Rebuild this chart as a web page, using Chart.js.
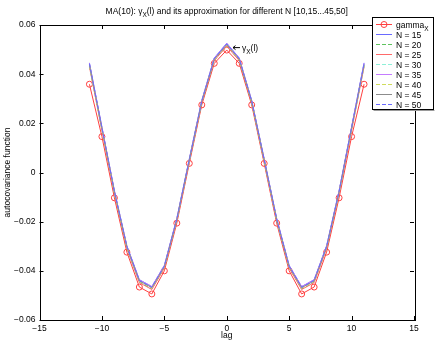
<!DOCTYPE html>
<html>
<head>
<meta charset="utf-8">
<script src="https://cdn.jsdelivr.net/npm/chart.js@4/dist/chart.umd.min.js"></script>
<style>
  html, body { margin: 0; padding: 0; background: #fff; }
  #wrap { width: 436px; height: 344px; }
</style>
</head>
<body>
<div id="wrap"><canvas id="acfChart" width="436" height="344"></canvas></div>
<script>
const lags = [-11, -10, -9, -8, -7, -6, -5, -4, -3, -2, -1, 0, 1, 2, 3, 4, 5, 6, 7, 8, 9, 10, 11];

const gammaX = [0.0359, 0.0146, -0.0103, -0.0324, -0.0466, -0.0494, -0.0400, -0.0206, 0.0037, 0.0275, 0.0444, 0.0498, 0.0444, 0.0275, 0.0037, -0.0206, -0.0400, -0.0494, -0.0466, -0.0324, -0.0103, 0.0146, 0.0359];

const approxN15 = [0.0446, 0.0185, -0.0074, -0.0298, -0.0436, -0.0464, -0.0378, -0.0187, 0.0055, 0.0293, 0.0466, 0.0526, 0.0466, 0.0293, 0.0055, -0.0187, -0.0378, -0.0464, -0.0436, -0.0298, -0.0074, 0.0185, 0.0446];
const approxN20 = [0.0433, 0.0174, -0.0084, -0.0308, -0.0446, -0.0474, -0.0388, -0.0196, 0.0046, 0.0283, 0.0456, 0.0516, 0.0456, 0.0283, 0.0046, -0.0196, -0.0388, -0.0474, -0.0446, -0.0308, -0.0084, 0.0174, 0.0433];
const approxN25 = [0.0430, 0.0172, -0.0086, -0.0309, -0.0448, -0.0476, -0.0389, -0.0197, 0.0045, 0.0283, 0.0455, 0.0514, 0.0455, 0.0283, 0.0045, -0.0197, -0.0389, -0.0476, -0.0448, -0.0309, -0.0086, 0.0172, 0.0430];
const approxN30 = [0.0437, 0.0178, -0.0080, -0.0304, -0.0443, -0.0470, -0.0384, -0.0192, 0.0050, 0.0289, 0.0460, 0.0520, 0.0460, 0.0289, 0.0050, -0.0192, -0.0384, -0.0470, -0.0443, -0.0304, -0.0080, 0.0178, 0.0437];
const approxN35 = [0.0444, 0.0184, -0.0074, -0.0299, -0.0437, -0.0464, -0.0379, -0.0187, 0.0055, 0.0293, 0.0465, 0.0525, 0.0465, 0.0293, 0.0055, -0.0187, -0.0379, -0.0464, -0.0437, -0.0299, -0.0074, 0.0184, 0.0444];
const approxN40 = [0.0436, 0.0178, -0.0080, -0.0304, -0.0442, -0.0470, -0.0384, -0.0192, 0.0050, 0.0288, 0.0460, 0.0519, 0.0460, 0.0288, 0.0050, -0.0192, -0.0384, -0.0470, -0.0442, -0.0304, -0.0080, 0.0178, 0.0436];
const approxN45 = [0.0439, 0.0180, -0.0078, -0.0303, -0.0441, -0.0468, -0.0383, -0.0191, 0.0051, 0.0289, 0.0461, 0.0521, 0.0461, 0.0289, 0.0051, -0.0191, -0.0383, -0.0468, -0.0441, -0.0303, -0.0078, 0.0180, 0.0439];
const approxN50 = [0.0442, 0.0182, -0.0077, -0.0301, -0.0439, -0.0467, -0.0381, -0.0190, 0.0052, 0.0290, 0.0463, 0.0523, 0.0463, 0.0290, 0.0052, -0.0190, -0.0381, -0.0467, -0.0439, -0.0301, -0.0077, 0.0182, 0.0442];

const seriesNames = ["N = 15", "N = 20", "N = 25", "N = 30", "N = 35", "N = 40", "N = 45", "N = 50"];
const seriesValues = [approxN15, approxN20, approxN25, approxN30, approxN35, approxN40, approxN45, approxN50];
const seriesColors = ["#6a6aff", "#5fc35f", "#ff6a6a", "#8ef0d8", "#c47cff", "#cfdc5c", "#8c8c8c", "#6a6aff"];
const seriesDashed = [false, true, false, true, false, true, false, true];

const xTicks = [-15, -10, -5, 0, 5, 10, 15];
const yTicks = [-0.06, -0.04, -0.02, 0, 0.02, 0.04, 0.06];

const FONT = "'Liberation Sans', Arial, sans-serif";

function toPoints(values) {
  return lags.map((lag, i) => ({ x: lag, y: values[i] }));
}

function fmtY(v) {
  if (Math.abs(v) < 1e-9) return "0";
  const s = Math.abs(v).toFixed(2);
  return (v < 0 ? "\u2212" : "") + s;
}

function fmtX(v) {
  return (v < 0 ? "\u2212" : "") + Math.abs(v);
}

const datasets = [
  {
    label: "gamma",
    data: toPoints(gammaX),
    borderColor: "#ff4040",
    borderWidth: 1,
    pointStyle: "circle",
    pointRadius: 3,
    pointBorderWidth: 1,
    pointBorderColor: "#ff4040",
    pointBackgroundColor: "rgba(0,0,0,0)",
    order: 20
  }
];

seriesValues.forEach((vals, i) => {
  datasets.push({
    label: seriesNames[i],
    data: toPoints(vals),
    borderColor: seriesColors[i],
    borderWidth: 1,
    borderDash: seriesDashed[i] ? [4, 2] : [],
    pointRadius: 0,
    order: 10 - i
  });
});

// axes box, inward ticks, title, annotation and legend
const matlabDecor = {
  id: "matlabDecor",
  afterDraw(chart) {
    const ctx = chart.ctx;
    const area = chart.chartArea;
    const xs = chart.scales.x;
    const ys = chart.scales.y;
    ctx.save();

    // ticks
    ctx.strokeStyle = "#000";
    ctx.lineWidth = 1;
    ctx.beginPath();
    xTicks.forEach(t => {
      const px = Math.round(xs.getPixelForValue(t)) + 0.5;
      ctx.moveTo(px, area.bottom);
      ctx.lineTo(px, area.bottom - 4);
      ctx.moveTo(px, area.top);
      ctx.lineTo(px, area.top + 4);
    });
    yTicks.forEach(t => {
      const py = Math.round(ys.getPixelForValue(t)) + 0.5;
      ctx.moveTo(area.left, py);
      ctx.lineTo(area.left + 4, py);
      ctx.moveTo(area.right, py);
      ctx.lineTo(area.right - 4, py);
    });
    ctx.stroke();

    // box
    ctx.strokeRect(Math.round(area.left) + 0.5, Math.round(area.top) + 0.5,
      Math.round(area.right - area.left), Math.round(area.bottom - area.top));

    // title
    ctx.fillStyle = "#000";
    ctx.textBaseline = "alphabetic";
    const tParts = [
      ["MA(10): \u03b3", 8.5, 0],
      ["X", 6.5, 3],
      ["(l) and its approximation for different N [10,15...45,50]", 8.5, 0]
    ];
    let tw = 0;
    tParts.forEach(p => { ctx.font = p[1] + "px " + FONT; tw += ctx.measureText(p[0]).width; });
    let tx = (area.left + area.right) / 2 - tw / 2;
    tParts.forEach(p => {
      ctx.font = p[1] + "px " + FONT;
      ctx.textAlign = "left";
      ctx.fillText(p[0], tx, 14 + p[2]);
      tx += ctx.measureText(p[0]).width;
    });

    // annotation near the peak
    const ax = xs.getPixelForValue(0.5);
    const ay = ys.getPixelForValue(0.0508);
    ctx.beginPath();
    ctx.moveTo(ax, ay);
    ctx.lineTo(ax + 7, ay);
    ctx.moveTo(ax, ay);
    ctx.lineTo(ax + 2.5, ay - 2);
    ctx.moveTo(ax, ay);
    ctx.lineTo(ax + 2.5, ay + 2);
    ctx.stroke();
    let nx = ax + 9;
    ctx.font = "8.5px " + FONT;
    ctx.fillText("\u03b3", nx, ay + 3);
    nx += ctx.measureText("\u03b3").width;
    ctx.font = "6.5px " + FONT;
    ctx.fillText("X", nx, ay + 6);
    nx += ctx.measureText("X").width;
    ctx.font = "8.5px " + FONT;
    ctx.fillText("(l)", nx, ay + 3);

    // legend
    const lx = 372, ly = 17, lw = 61, lh = 92;
    ctx.fillStyle = "#fff";
    ctx.fillRect(lx, ly, lw, lh);
    ctx.strokeStyle = "#000";
    ctx.strokeRect(lx + 0.5, ly + 0.5, lw, lh);
    ctx.strokeStyle = "#9a9a9a";
    ctx.beginPath();
    ctx.moveTo(lx + 1.5, ly + lh + 1.5);
    ctx.lineTo(lx + lw + 1.5, ly + lh + 1.5);
    ctx.stroke();

    const rowY = i => ly + 7 + i * 10.05;
    chart.data.datasets.forEach((ds, i) => {
      const y = Math.round(rowY(i)) + 0.5;
      ctx.strokeStyle = ds.borderColor;
      ctx.lineWidth = 1;
      ctx.setLineDash(ds.borderDash && ds.borderDash.length ? [4, 2] : []);
      ctx.beginPath();
      ctx.moveTo(lx + 4, y);
      ctx.lineTo(lx + 20, y);
      ctx.stroke();
      ctx.setLineDash([]);
      if (i === 0) {
        ctx.beginPath();
        ctx.arc(lx + 12, y, 3, 0, Math.PI * 2);
        ctx.stroke();
      }
      ctx.fillStyle = "#000";
      ctx.font = "8.5px " + FONT;
      ctx.fillText(ds.label, lx + 24, y + 3);
      if (i === 0) {
        const w = ctx.measureText(ds.label).width;
        ctx.font = "6.5px " + FONT;
        ctx.fillText("X", lx + 24 + w, y + 6);
      }
    });

    ctx.restore();
  }
};

const chartCanvas = document.getElementById("acfChart");

new Chart(chartCanvas, {
  type: "line",
  data: { datasets: datasets },
  options: {
    responsive: false,
    animation: false,
    layout: { padding: { left: 0, top: 25, right: 22, bottom: 0 } },
    plugins: {
      legend: { display: false },
      title: { display: false },
      tooltip: { enabled: false }
    },
    scales: {
      x: {
        type: "linear",
        min: -15,
        max: 15,
        afterFit: s => { s.height = 24; },
        afterBuildTicks: s => { s.ticks = xTicks.map(v => ({ value: v })); },
        grid: { display: false, drawTicks: false },
        border: { display: false },
        ticks: {
          padding: 4,
          color: "#000",
          font: { family: FONT, size: 8.5 },
          callback: v => fmtX(v)
        },
        title: {
          display: true,
          text: "lag",
          color: "#000",
          padding: { top: 0, bottom: 3 },
          font: { family: FONT, size: 8.5 }
        }
      },
      y: {
        type: "linear",
        min: -0.06,
        max: 0.06,
        afterFit: s => { s.width = 39.5; },
        afterBuildTicks: s => { s.ticks = yTicks.map(v => ({ value: v })); },
        grid: { display: false, drawTicks: false },
        border: { display: false },
        ticks: {
          padding: 4,
          color: "#000",
          font: { family: FONT, size: 8.5 },
          callback: v => fmtY(v)
        },
        title: {
          display: true,
          text: "autocovariance function",
          color: "#000",
          padding: { top: 3, bottom: 0 },
          font: { family: FONT, size: 8.5 }
        }
      }
    }
  },
  plugins: [matlabDecor]
});
</script>
</body>
</html>
